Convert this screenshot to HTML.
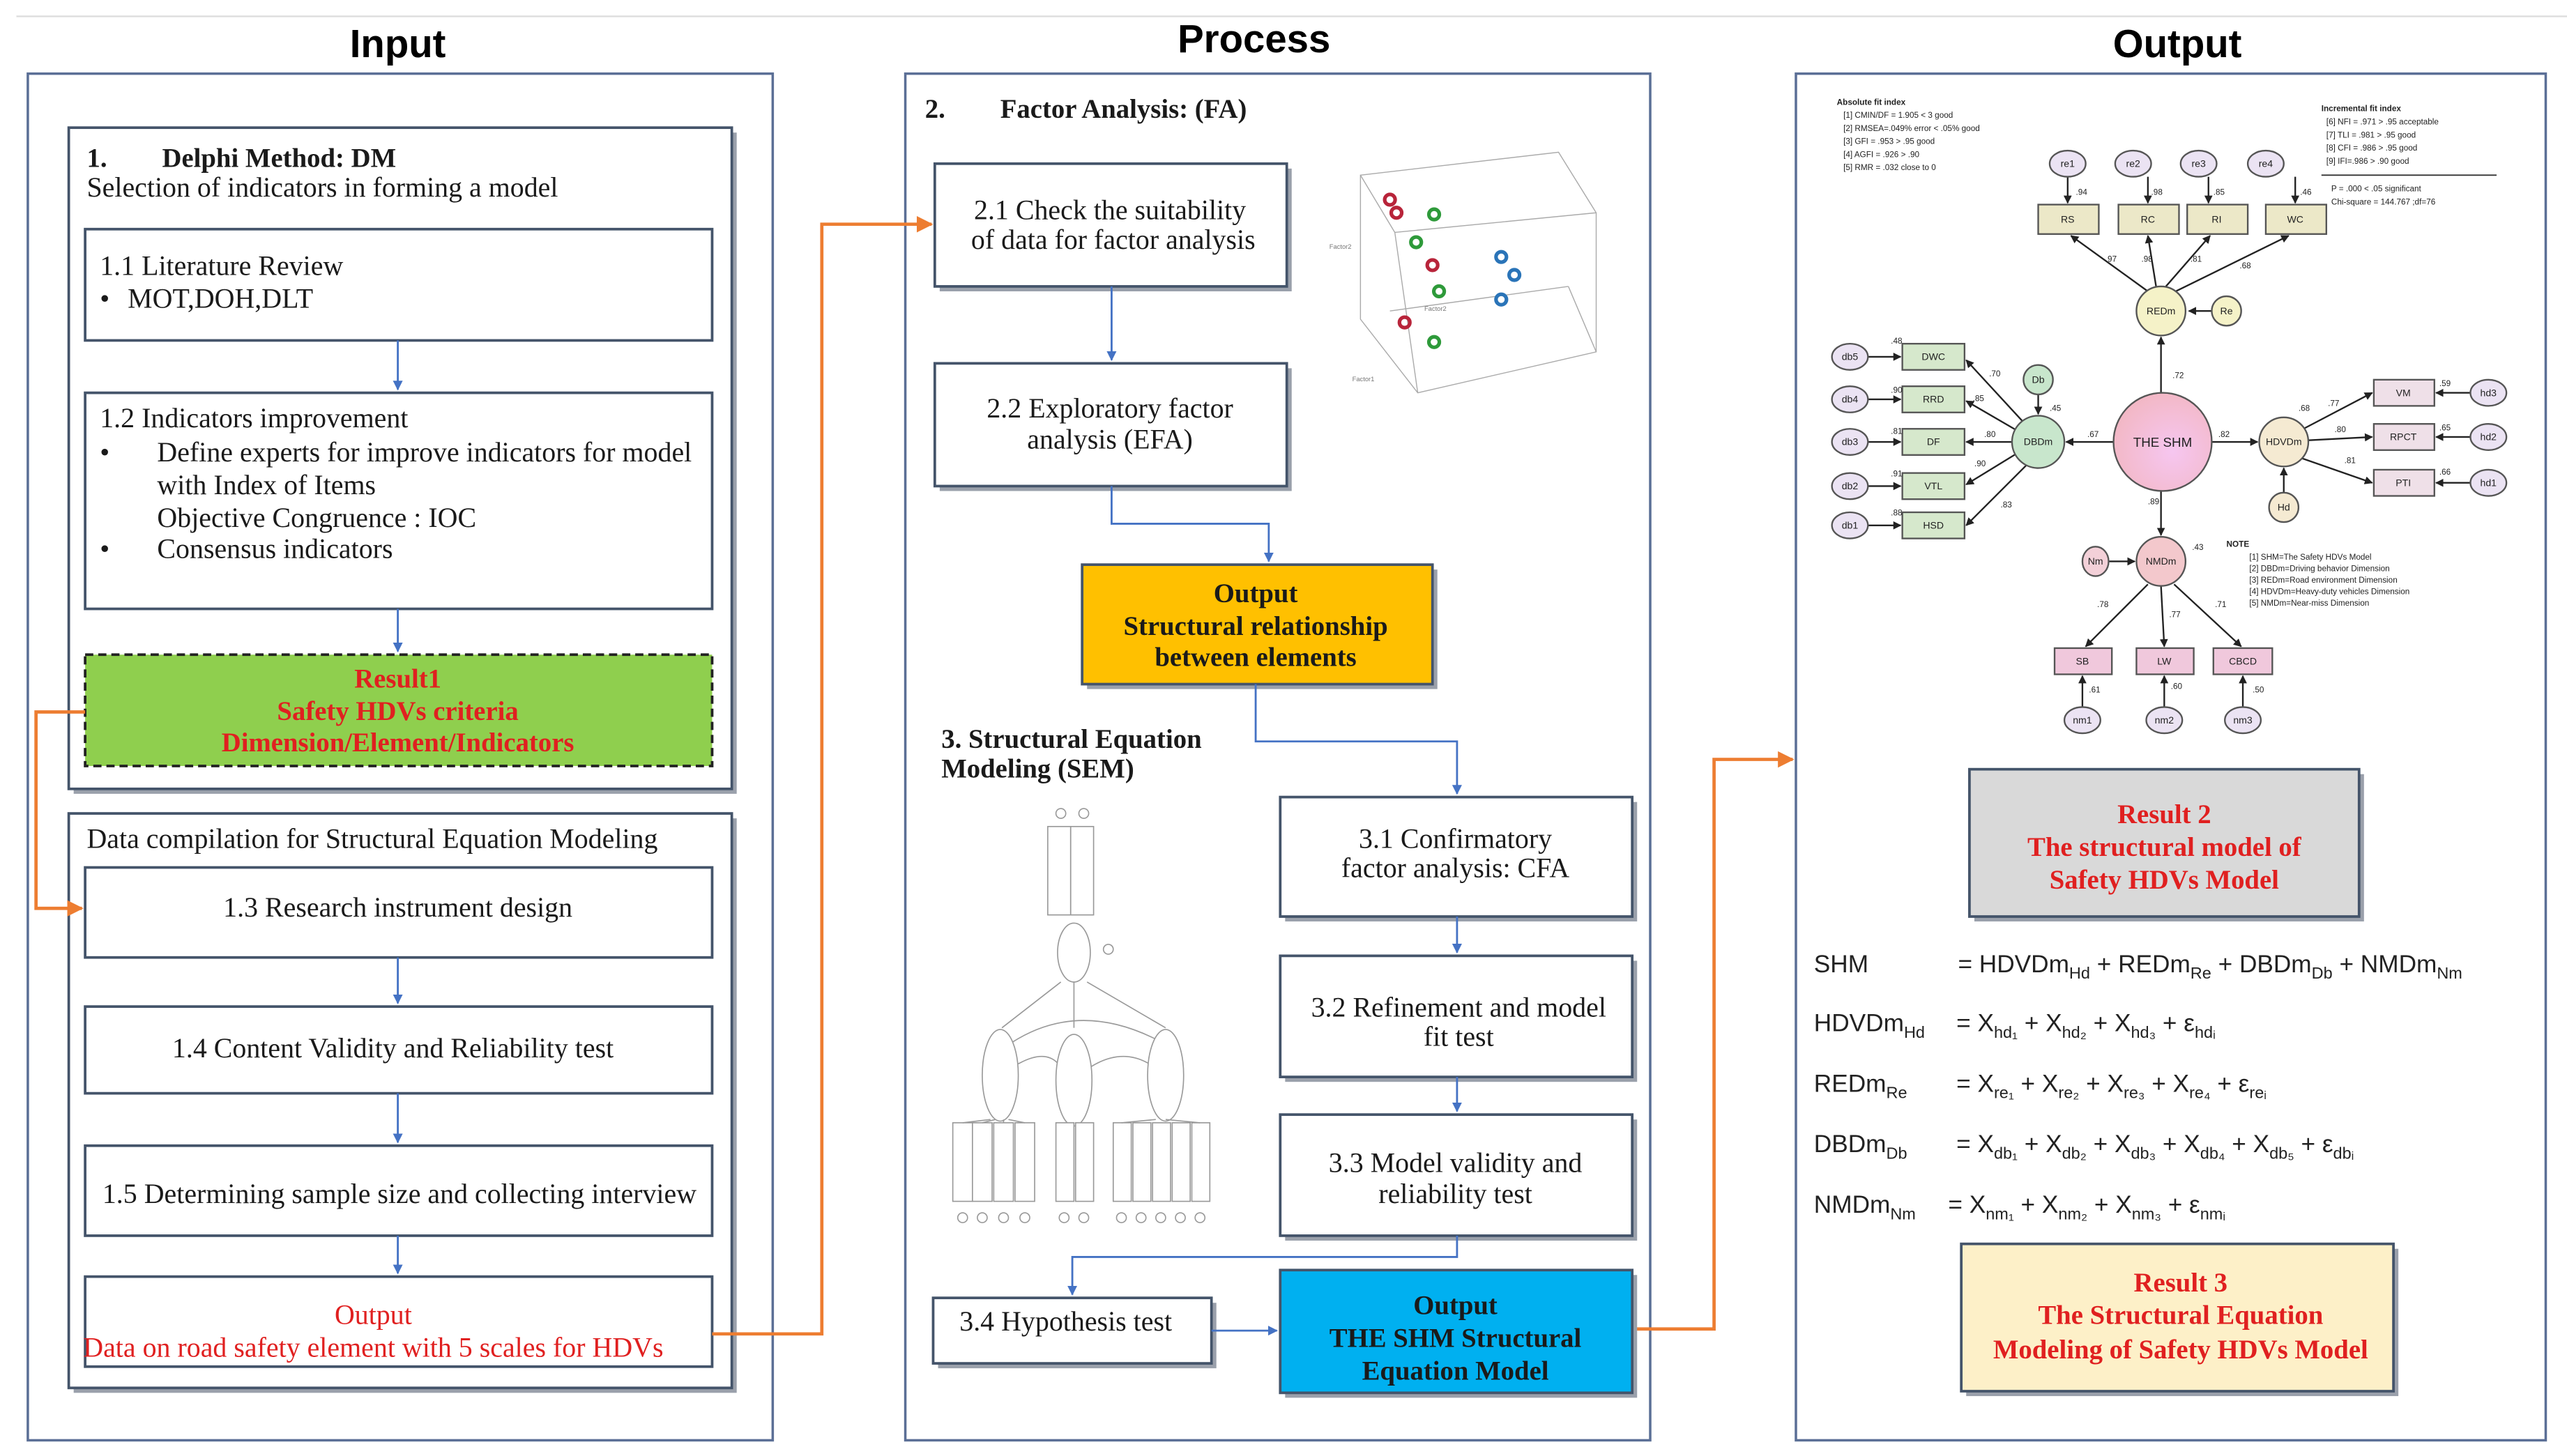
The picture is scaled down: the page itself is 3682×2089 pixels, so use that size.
<!DOCTYPE html>
<html><head><meta charset="utf-8">
<style>
html,body{margin:0;padding:0;background:#fff;}
svg{display:block;}
.s{font-family:"Liberation Serif",serif;fill:#1a1a1a;}
.a{font-family:"Liberation Sans",sans-serif;}
.box{fill:#fff;stroke:#44546a;stroke-width:1.6;}
.sh{fill:#9aa0ab;}
.pan{fill:#fff;stroke:#5b6f96;stroke-width:1.5;}
.bl{stroke:#4472c4;stroke-width:1.2;fill:none;}
.or{stroke:#ed7d31;stroke-width:2;fill:none;}
.k{stroke:#222;stroke-width:1;fill:none;}
.t5{font-family:"Liberation Sans",sans-serif;font-size:5px;fill:#222;}
.t6{font-family:"Liberation Sans",sans-serif;font-size:6px;fill:#222;}
.g{stroke:#aaa;stroke-width:0.6;fill:none;}
</style></head><body>
<svg width="3682" height="2089" viewBox="0 0 1568 889.6" preserveAspectRatio="none" xmlns="http://www.w3.org/2000/svg">
<defs>
<marker id="ab" viewBox="0 0 10 10" refX="9" refY="5" markerWidth="5" markerHeight="5" orient="auto"><path d="M0,0L10,5L0,10z" fill="#4472c4"/></marker>
<marker id="ao" viewBox="0 0 10 10" refX="9" refY="5" markerWidth="5" markerHeight="5" orient="auto"><path d="M0,0L10,5L0,10z" fill="#ed7d31"/></marker>
<marker id="ak" viewBox="0 0 10 10" refX="9" refY="5" markerWidth="5" markerHeight="5" orient="auto"><path d="M0,0L10,5L0,10z" fill="#222"/></marker>
<radialGradient id="pk" cx="0.6" cy="0.6" r="0.7"><stop offset="0" stop-color="#f6c6f0"/><stop offset="1" stop-color="#f2b6c0"/></radialGradient>
</defs>

<line x1="10" y1="10" x2="1568" y2="10" stroke="#ddd" stroke-width="1"/>

<text x="243" y="35" text-anchor="middle" class="a" font-size="24" font-weight="bold">Input</text>
<text x="766" y="32" text-anchor="middle" class="a" font-size="24" font-weight="bold">Process</text>
<text x="1330" y="35" text-anchor="middle" class="a" font-size="24" font-weight="bold">Output</text>

<rect class="pan" x="17" y="45" width="455" height="835"/>
<rect class="pan" x="553" y="45" width="455" height="835"/>
<rect class="pan" x="1097" y="45" width="458" height="835"/>

<!-- ===== INPUT ===== -->
<rect class="sh" x="45" y="81" width="405" height="404"/>
<rect class="box" x="42" y="78" width="405" height="404"/>
<text class="s" x="53" y="102" font-size="16.5" font-weight="bold">1.</text>
<text class="s" x="99" y="102" font-size="16.5" font-weight="bold">Delphi Method: DM</text>
<text class="s" x="53" y="120" font-size="17">Selection of indicators in forming a model</text>

<rect class="box" x="52" y="140" width="383" height="68"/>
<text class="s" x="61" y="168" font-size="17">1.1 Literature Review</text>
<text class="s" x="61" y="188" font-size="17">•</text>
<text class="s" x="78" y="188" font-size="17">MOT,DOH,DLT</text>
<line class="bl" x1="243" y1="208" x2="243" y2="238" marker-end="url(#ab)"/>

<rect class="box" x="52" y="240" width="383" height="132"/>
<text class="s" x="61" y="261" font-size="17">1.2 Indicators improvement</text>
<text class="s" x="61" y="282" font-size="17">•</text>
<text class="s" x="96" y="282" font-size="17">Define experts for improve indicators for model</text>
<text class="s" x="96" y="302" font-size="17">with Index of Items</text>
<text class="s" x="96" y="322" font-size="17">Objective Congruence : IOC</text>
<text class="s" x="61" y="341" font-size="17">•</text>
<text class="s" x="96" y="341" font-size="17">Consensus indicators</text>
<line class="bl" x1="243" y1="372" x2="243" y2="398" marker-end="url(#ab)"/>

<rect x="52" y="400" width="383" height="68" fill="#8fcf4e" stroke="#222" stroke-width="1.6" stroke-dasharray="5,3"/>
<text class="s" x="243" y="420" text-anchor="middle" font-size="16.5" font-weight="bold" style="fill:#e02020">Result1</text>
<text class="s" x="243" y="440" text-anchor="middle" font-size="16.5" font-weight="bold" style="fill:#e02020">Safety HDVs criteria</text>
<text class="s" x="243" y="459" text-anchor="middle" font-size="16.5" font-weight="bold" style="fill:#e02020">Dimension/Element/Indicators</text>

<rect class="sh" x="45" y="500" width="405" height="351"/>
<rect class="box" x="42" y="497" width="405" height="351"/>
<text class="s" x="53" y="518" font-size="17">Data compilation for Structural Equation Modeling</text>

<rect class="box" x="52" y="530" width="383" height="55"/>
<text class="s" x="243" y="560" text-anchor="middle" font-size="17">1.3 Research instrument design</text>
<line class="bl" x1="243" y1="585" x2="243" y2="613" marker-end="url(#ab)"/>
<rect class="box" x="52" y="615" width="383" height="53"/>
<text class="s" x="240" y="646" text-anchor="middle" font-size="17">1.4 Content Validity and Reliability test</text>
<line class="bl" x1="243" y1="668" x2="243" y2="698" marker-end="url(#ab)"/>
<rect class="box" x="52" y="700" width="383" height="55"/>
<text class="s" x="244" y="735" text-anchor="middle" font-size="17">1.5 Determining sample size and collecting interview</text>
<line class="bl" x1="243" y1="755" x2="243" y2="778" marker-end="url(#ab)"/>
<rect class="box" x="52" y="780" width="383" height="55"/>
<text class="s" x="228" y="809" text-anchor="middle" font-size="17" style="fill:#e02020">Output</text>
<text class="s" x="228" y="829" text-anchor="middle" font-size="17" style="fill:#e02020">Data on road safety element with 5 scales for HDVs</text>

<polyline class="or" points="52,435 22,435 22,555 50,555" marker-end="url(#ao)"/>
<polyline class="or" points="435,815 502,815 502,137 569,137" marker-end="url(#ao)"/>
<polyline class="or" points="997,812 1047,812 1047,464 1095,464" marker-end="url(#ao)"/>

<!-- ===== PROCESS ===== -->
<text class="s" x="565" y="72" font-size="16.5" font-weight="bold">2.</text>
<text class="s" x="611" y="72" font-size="16.5" font-weight="bold">Factor Analysis: (FA)</text>

<rect class="sh" x="574" y="103" width="215" height="75"/>
<rect class="box" x="571" y="100" width="215" height="75"/>
<text class="s" x="678" y="134" text-anchor="middle" font-size="17">2.1 Check the suitability</text>
<text class="s" x="680" y="152" text-anchor="middle" font-size="17">of data for factor analysis</text>
<line class="bl" x1="679" y1="175" x2="679" y2="220" marker-end="url(#ab)"/>

<rect class="sh" x="574" y="225" width="215" height="75"/>
<rect class="box" x="571" y="222" width="215" height="75"/>
<text class="s" x="678" y="255" text-anchor="middle" font-size="17">2.2 Exploratory factor</text>
<text class="s" x="678" y="274" text-anchor="middle" font-size="17">analysis (EFA)</text>
<polyline class="bl" points="679,297 679,320 775,320 775,343" marker-end="url(#ab)"/>

<rect class="sh" x="664" y="348" width="214" height="73"/>
<rect x="661" y="345" width="214" height="73" fill="#ffc000" stroke="#44546a" stroke-width="1.6"/>
<text class="s" x="767" y="368" text-anchor="middle" font-size="16.5" font-weight="bold">Output</text>
<text class="s" x="767" y="388" text-anchor="middle" font-size="16.5" font-weight="bold">Structural relationship</text>
<text class="s" x="767" y="407" text-anchor="middle" font-size="16.5" font-weight="bold">between elements</text>

<g>
<polygon class="g" points="831,107 952,93 975,130 975,215 866,240 831,195"/>
<line class="g" x1="852" y1="142" x2="975" y2="130"/>
<line class="g" x1="852" y1="142" x2="866" y2="240"/>
<line class="g" x1="849" y1="190" x2="958" y2="175"/>
<line class="g" x1="958" y1="175" x2="975" y2="215"/>
<line class="g" x1="831" y1="107" x2="852" y2="142"/>
<text x="812" y="152" font-size="4" fill="#777" class="a">Factor2</text>
<text x="826" y="233" font-size="4" fill="#777" class="a">Factor1</text>
<text x="870" y="190" font-size="4" fill="#777" class="a">Factor2</text>
<g fill="none" stroke-width="2.2">
<circle cx="849" cy="122" r="3.2" stroke="#b8243a"/>
<circle cx="853" cy="130" r="3.2" stroke="#b8243a"/>
<circle cx="876" cy="131" r="3.2" stroke="#2e9a3a"/>
<circle cx="865" cy="148" r="3.2" stroke="#2e9a3a"/>
<circle cx="875" cy="162" r="3.2" stroke="#b8243a"/>
<circle cx="879" cy="178" r="3.2" stroke="#2e9a3a"/>
<circle cx="858" cy="197" r="3.2" stroke="#b8243a"/>
<circle cx="876" cy="209" r="3.2" stroke="#2e9a3a"/>
<circle cx="917" cy="157" r="3.2" stroke="#2a74b8"/>
<circle cx="925" cy="168" r="3.2" stroke="#2a74b8"/>
<circle cx="917" cy="183" r="3.2" stroke="#2a74b8"/>
</g>
</g>

<polyline class="bl" points="767,418 767,453 890,453 890,485" marker-end="url(#ab)"/>

<text class="s" x="575" y="457" font-size="16.5" font-weight="bold">3. Structural Equation</text>
<text class="s" x="575" y="475" font-size="16.5" font-weight="bold">Modeling (SEM)</text>

<g stroke="#999" stroke-width="0.7" fill="#fff">
<circle cx="648" cy="497" r="3"/><circle cx="662" cy="497" r="3"/>
<rect x="640" y="505" width="14" height="54"/><rect x="654" y="505" width="14" height="54"/>
<ellipse cx="656" cy="582" rx="10" ry="18"/>
<circle cx="677" cy="580" r="3"/>
<line x1="648" y1="600" x2="612" y2="628"/><line x1="656" y1="600" x2="656" y2="628"/><line x1="664" y1="600" x2="712" y2="628"/>
<path d="M618,637 Q660,610 710,637" fill="none"/>
<path d="M622,650 Q640,640 648,652" fill="none"/><path d="M666,652 Q685,640 702,650" fill="none"/>
<ellipse cx="611" cy="657" rx="11" ry="28"/><ellipse cx="656" cy="660" rx="11" ry="28"/><ellipse cx="712" cy="657" rx="11" ry="28"/>
<rect x="582" y="686" width="12" height="48"/><rect x="594" y="686" width="12" height="48"/><rect x="607" y="686" width="12" height="48"/><rect x="620" y="686" width="12" height="48"/>
<rect x="645" y="686" width="11" height="48"/><rect x="657" y="686" width="11" height="48"/>
<rect x="680" y="686" width="11" height="48"/><rect x="692" y="686" width="11" height="48"/><rect x="704" y="686" width="11" height="48"/><rect x="716" y="686" width="11" height="48"/><rect x="728" y="686" width="11" height="48"/>
<g fill="#fff">
<circle cx="588" cy="744" r="3"/><circle cx="600" cy="744" r="3"/><circle cx="613" cy="744" r="3"/><circle cx="626" cy="744" r="3"/>
<circle cx="650" cy="744" r="3"/><circle cx="662" cy="744" r="3"/>
<circle cx="685" cy="744" r="3"/><circle cx="697" cy="744" r="3"/><circle cx="709" cy="744" r="3"/><circle cx="721" cy="744" r="3"/><circle cx="733" cy="744" r="3"/>
</g>
<line x1="605" y1="684" x2="588" y2="686"/><line x1="608" y1="684" x2="600" y2="686"/><line x1="613" y1="684" x2="613" y2="686"/><line x1="616" y1="684" x2="626" y2="686"/>
<line x1="706" y1="684" x2="685" y2="686"/><line x1="712" y1="684" x2="733" y2="686"/>
</g>

<rect class="sh" x="785" y="490" width="215" height="73"/>
<rect class="box" x="782" y="487" width="215" height="73"/>
<text class="s" x="889" y="518" text-anchor="middle" font-size="17">3.1 Confirmatory</text>
<text class="s" x="889" y="536" text-anchor="middle" font-size="17">factor analysis: CFA</text>
<line class="bl" x1="890" y1="560" x2="890" y2="582" marker-end="url(#ab)"/>

<rect class="sh" x="785" y="587" width="215" height="74"/>
<rect class="box" x="782" y="584" width="215" height="74"/>
<text class="s" x="891" y="621" text-anchor="middle" font-size="17">3.2  Refinement and model</text>
<text class="s" x="891" y="639" text-anchor="middle" font-size="17">fit test</text>
<line class="bl" x1="890" y1="658" x2="890" y2="679" marker-end="url(#ab)"/>

<rect class="sh" x="785" y="684" width="215" height="74"/>
<rect class="box" x="782" y="681" width="215" height="74"/>
<text class="s" x="889" y="716" text-anchor="middle" font-size="17">3.3 Model validity and</text>
<text class="s" x="889" y="735" text-anchor="middle" font-size="17">reliability test</text>
<polyline class="bl" points="890,755 890,768 655,768 655,791" marker-end="url(#ab)"/>

<rect class="sh" x="573" y="796" width="170" height="40"/>
<rect class="box" x="570" y="793" width="170" height="40"/>
<text class="s" x="651" y="813" text-anchor="middle" font-size="17">3.4 Hypothesis test</text>
<line class="bl" x1="740" y1="813" x2="780" y2="813" marker-end="url(#ab)"/>

<rect class="sh" x="785" y="779" width="215" height="75"/>
<rect x="782" y="776" width="215" height="75" fill="#00b0f0" stroke="#44546a" stroke-width="1.6"/>
<text class="s" x="889" y="803" text-anchor="middle" font-size="16.5" font-weight="bold">Output</text>
<text class="s" x="889" y="823" text-anchor="middle" font-size="16.5" font-weight="bold">THE SHM Structural</text>
<text class="s" x="889" y="843" text-anchor="middle" font-size="16.5" font-weight="bold">Equation Model</text>

<!-- ===== OUTPUT ===== -->
<text class="t5" x="1122" y="64" font-weight="bold">Absolute fit index</text>
<text class="t5" x="1126" y="72">[1] CMIN/DF = 1.905 &lt; 3 good</text>
<text class="t5" x="1126" y="80">[2] RMSEA=.049% error &lt; .05% good</text>
<text class="t5" x="1126" y="88">[3] GFI = .953 &gt; .95 good</text>
<text class="t5" x="1126" y="96">[4] AGFI = .926 &gt; .90</text>
<text class="t5" x="1126" y="104">[5] RMR = .032 close to 0</text>
<text class="t5" x="1418" y="68" font-weight="bold">Incremental fit index</text>
<text class="t5" x="1421" y="76">[6] NFI = .971 &gt; .95 acceptable</text>
<text class="t5" x="1421" y="84">[7] TLI = .981 &gt; .95 good</text>
<text class="t5" x="1421" y="92">[8] CFI = .986 &gt; .95 good</text>
<text class="t5" x="1421" y="100">[9] IFI=.986 &gt; .90 good</text>
<line x1="1418" y1="107" x2="1525" y2="107" stroke="#333" stroke-width="0.8"/>
<text class="t5" x="1424" y="117">P = .000 &lt; .05 significant</text>
<text class="t5" x="1424" y="125">Chi-square = 144.767 ;df=76</text>

<g class="k">
<line x1="1263" y1="108" x2="1263" y2="124" marker-end="url(#ak)"/>
<line x1="1312" y1="108" x2="1312" y2="124" marker-end="url(#ak)"/>
<line x1="1349" y1="108" x2="1349" y2="124" marker-end="url(#ak)"/>
<line x1="1402" y1="108" x2="1402" y2="124" marker-end="url(#ak)"/>
<line x1="1312" y1="178" x2="1265" y2="144" marker-end="url(#ak)"/>
<line x1="1317" y1="175" x2="1312" y2="144" marker-end="url(#ak)"/>
<line x1="1323" y1="175" x2="1350" y2="144" marker-end="url(#ak)"/>
<line x1="1329" y1="178" x2="1398" y2="144" marker-end="url(#ak)"/>
<line x1="1351" y1="190" x2="1337" y2="190" marker-end="url(#ak)"/>
<line x1="1320" y1="240" x2="1320" y2="206" marker-end="url(#ak)"/>
<line x1="1291" y1="270" x2="1262" y2="270" marker-end="url(#ak)"/>
<line x1="1351" y1="270" x2="1379" y2="270" marker-end="url(#ak)"/>
<line x1="1320" y1="300" x2="1320" y2="327" marker-end="url(#ak)"/>
<line x1="1245" y1="241" x2="1245" y2="253" marker-end="url(#ak)"/>
<line x1="1236" y1="258" x2="1201" y2="220" marker-end="url(#ak)"/>
<line x1="1232" y1="263" x2="1201" y2="245" marker-end="url(#ak)"/>
<line x1="1229" y1="270" x2="1201" y2="270" marker-end="url(#ak)"/>
<line x1="1232" y1="277" x2="1201" y2="296" marker-end="url(#ak)"/>
<line x1="1238" y1="284" x2="1201" y2="321" marker-end="url(#ak)"/>
<line x1="1141" y1="218" x2="1161" y2="218" marker-end="url(#ak)"/>
<line x1="1141" y1="244" x2="1161" y2="244" marker-end="url(#ak)"/>
<line x1="1141" y1="270" x2="1161" y2="270" marker-end="url(#ak)"/>
<line x1="1141" y1="297" x2="1161" y2="297" marker-end="url(#ak)"/>
<line x1="1141" y1="321" x2="1161" y2="321" marker-end="url(#ak)"/>
<line x1="1407" y1="262" x2="1449" y2="240" marker-end="url(#ak)"/>
<line x1="1410" y1="269" x2="1449" y2="267" marker-end="url(#ak)"/>
<line x1="1406" y1="280" x2="1449" y2="295" marker-end="url(#ak)"/>
<line x1="1395" y1="301" x2="1395" y2="286" marker-end="url(#ak)"/>
<line x1="1509" y1="240" x2="1488" y2="240" marker-end="url(#ak)"/>
<line x1="1509" y1="267" x2="1488" y2="267" marker-end="url(#ak)"/>
<line x1="1509" y1="295" x2="1488" y2="295" marker-end="url(#ak)"/>
<line x1="1288" y1="343" x2="1304" y2="343" marker-end="url(#ak)"/>
<line x1="1312" y1="357" x2="1274" y2="395" marker-end="url(#ak)"/>
<line x1="1320" y1="358" x2="1322" y2="395" marker-end="url(#ak)"/>
<line x1="1328" y1="357" x2="1369" y2="395" marker-end="url(#ak)"/>
<line x1="1272" y1="432" x2="1272" y2="413" marker-end="url(#ak)"/>
<line x1="1322" y1="432" x2="1322" y2="413" marker-end="url(#ak)"/>
<line x1="1370" y1="432" x2="1370" y2="413" marker-end="url(#ak)"/>
</g>
<g stroke="#555" stroke-width="1">
<ellipse cx="1263" cy="100" rx="11" ry="8" fill="#ebe3f3"/><ellipse cx="1303" cy="100" rx="11" ry="8" fill="#ebe3f3"/>
<ellipse cx="1343" cy="100" rx="11" ry="8" fill="#ebe3f3"/><ellipse cx="1384" cy="100" rx="11" ry="8" fill="#ebe3f3"/>
<rect x="1245" y="125" width="37" height="18" fill="#ece8c8"/><rect x="1294" y="125" width="37" height="18" fill="#ece8c8"/>
<rect x="1336" y="125" width="37" height="18" fill="#ece8c8"/><rect x="1384" y="125" width="37" height="18" fill="#ece8c8"/>
<circle cx="1320" cy="190" r="15" fill="#f5f2c8"/><circle cx="1360" cy="190" r="9" fill="#f5f2c8"/>
<circle cx="1321" cy="270" r="30" fill="url(#pk)"/>
<circle cx="1245" cy="270" r="16" fill="#c8e6cc"/><circle cx="1245" cy="232" r="9" fill="#c8e6cc"/>
<rect x="1162" y="210" width="38" height="16" fill="#d6e8cc"/><rect x="1162" y="236" width="38" height="16" fill="#d6e8cc"/>
<rect x="1162" y="262" width="38" height="16" fill="#d6e8cc"/><rect x="1162" y="289" width="38" height="16" fill="#d6e8cc"/>
<rect x="1162" y="313" width="38" height="16" fill="#d6e8cc"/>
<ellipse cx="1130" cy="218" rx="11" ry="8" fill="#ebe3f3"/><ellipse cx="1130" cy="244" rx="11" ry="8" fill="#ebe3f3"/>
<ellipse cx="1130" cy="270" rx="11" ry="8" fill="#ebe3f3"/><ellipse cx="1130" cy="297" rx="11" ry="8" fill="#ebe3f3"/>
<ellipse cx="1130" cy="321" rx="11" ry="8" fill="#ebe3f3"/>
<circle cx="1395" cy="270" r="15" fill="#f5ead2"/><circle cx="1395" cy="310" r="9" fill="#f5ead2"/>
<rect x="1450" y="232" width="37" height="16" fill="#efe0e8"/><rect x="1450" y="259" width="37" height="16" fill="#efe0e8"/>
<rect x="1450" y="287" width="37" height="16" fill="#efe0e8"/>
<ellipse cx="1520" cy="240" rx="11" ry="8" fill="#ebe3f3"/><ellipse cx="1520" cy="267" rx="11" ry="8" fill="#ebe3f3"/>
<ellipse cx="1520" cy="295" rx="11" ry="8" fill="#ebe3f3"/>
<circle cx="1320" cy="343" r="15" fill="#f3c8cc"/><ellipse cx="1280" cy="343" rx="8" ry="9" fill="#f3d0d8"/>
<rect x="1255" y="396" width="35" height="16" fill="#f0c8dc"/><rect x="1305" y="396" width="35" height="16" fill="#f0c8dc"/>
<rect x="1352" y="396" width="36" height="16" fill="#f0c8dc"/>
<ellipse cx="1272" cy="440" rx="11" ry="8" fill="#ebe3f3"/><ellipse cx="1322" cy="440" rx="11" ry="8" fill="#ebe3f3"/>
<ellipse cx="1370" cy="440" rx="11" ry="8" fill="#ebe3f3"/>
</g>
<g class="t6" text-anchor="middle">
<text x="1263" y="102">re1</text><text x="1303" y="102">re2</text><text x="1343" y="102">re3</text><text x="1384" y="102">re4</text>
<text x="1263" y="136">RS</text><text x="1312" y="136">RC</text><text x="1354" y="136">RI</text><text x="1402" y="136">WC</text>
<text x="1320" y="192">REDm</text><text x="1360" y="192">Re</text>
<text x="1321" y="273" font-size="8">THE SHM</text>
<text x="1245" y="272">DBDm</text><text x="1245" y="234">Db</text>
<text x="1181" y="220">DWC</text><text x="1181" y="246">RRD</text><text x="1181" y="272">DF</text><text x="1181" y="299">VTL</text><text x="1181" y="323">HSD</text>
<text x="1130" y="220">db5</text><text x="1130" y="246">db4</text><text x="1130" y="272">db3</text><text x="1130" y="299">db2</text><text x="1130" y="323">db1</text>
<text x="1395" y="272">HDVDm</text><text x="1395" y="312">Hd</text>
<text x="1468" y="242">VM</text><text x="1468" y="269">RPCT</text><text x="1468" y="297">PTI</text>
<text x="1520" y="242">hd3</text><text x="1520" y="269">hd2</text><text x="1520" y="297">hd1</text>
<text x="1320" y="345">NMDm</text><text x="1280" y="345">Nm</text>
<text x="1272" y="406">SB</text><text x="1322" y="406">LW</text><text x="1370" y="406">CBCD</text>
<text x="1272" y="442">nm1</text><text x="1322" y="442">nm2</text><text x="1370" y="442">nm3</text>
</g>
<g class="t5">
<text x="1268" y="119">.94</text><text x="1314" y="119">.98</text><text x="1352" y="119">.85</text><text x="1405" y="119">.46</text>
<text x="1286" y="160">.97</text><text x="1308" y="160">.98</text><text x="1338" y="160">.81</text><text x="1368" y="164">.68</text>
<text x="1327" y="231">.72</text><text x="1275" y="267">.67</text><text x="1355" y="267">.82</text><text x="1312" y="308">.89</text>
<text x="1252" y="251">.45</text><text x="1215" y="230">.70</text><text x="1205" y="245">.85</text><text x="1212" y="267">.80</text>
<text x="1206" y="285">.90</text><text x="1222" y="310">.83</text>
<text x="1155" y="210">.48</text><text x="1155" y="240">.90</text><text x="1155" y="265">.81</text><text x="1155" y="291">.91</text><text x="1155" y="315">.88</text>
<text x="1404" y="251">.68</text><text x="1422" y="248">.77</text><text x="1426" y="264">.80</text><text x="1432" y="283">.81</text>
<text x="1490" y="236">.59</text><text x="1490" y="263">.65</text><text x="1490" y="290">.66</text>
<text x="1339" y="336">.43</text>
<text x="1281" y="371">.78</text><text x="1325" y="377">.77</text><text x="1353" y="371">.71</text>
<text x="1276" y="423">.61</text><text x="1326" y="421">.60</text><text x="1376" y="423">.50</text>
</g>
<g class="t5" font-size="4.5">
<text x="1360" y="334" font-weight="bold">NOTE</text>
<text x="1374" y="342">[1] SHM=The Safety HDVs Model</text>
<text x="1374" y="349">[2] DBDm=Driving behavior Dimension</text>
<text x="1374" y="356">[3] REDm=Road environment Dimension</text>
<text x="1374" y="363">[4] HDVDm=Heavy-duty vehicles Dimension</text>
<text x="1374" y="370">[5] NMDm=Near-miss Dimension</text>
</g>

<rect class="sh" x="1206" y="473" width="238" height="90"/>
<rect x="1203" y="470" width="238" height="90" fill="#d9d9d9" stroke="#44546a" stroke-width="1.6"/>
<text class="s" x="1322" y="503" text-anchor="middle" font-size="16.5" font-weight="bold" style="fill:#e02020">Result 2</text>
<text class="s" x="1322" y="523" text-anchor="middle" font-size="16.5" font-weight="bold" style="fill:#e02020">The structural  model of</text>
<text class="s" x="1322" y="543" text-anchor="middle" font-size="16.5" font-weight="bold" style="fill:#e02020">Safety HDVs Model</text>

<g class="a" font-size="15" fill="#222">
<text x="1108" y="594">SHM</text>
<text x="1196" y="594">= HDVDm<tspan font-size="10" dy="4">Hd</tspan><tspan dy="-4"> + REDm</tspan><tspan font-size="10" dy="4">Re</tspan><tspan dy="-4"> + DBDm</tspan><tspan font-size="10" dy="4">Db</tspan><tspan dy="-4"> + NMDm</tspan><tspan font-size="10" dy="4">Nm</tspan></text>
<text x="1108" y="630">HDVDm<tspan font-size="10" dy="4">Hd</tspan></text>
<text x="1195" y="630">= X<tspan font-size="10" dy="4">hd₁</tspan><tspan dy="-4"> + X</tspan><tspan font-size="10" dy="4">hd₂</tspan><tspan dy="-4"> + X</tspan><tspan font-size="10" dy="4">hd₃</tspan><tspan dy="-4"> + ε</tspan><tspan font-size="10" dy="4">hdᵢ</tspan></text>
<text x="1108" y="667">REDm<tspan font-size="10" dy="4">Re</tspan></text>
<text x="1195" y="667">= X<tspan font-size="10" dy="4">re₁</tspan><tspan dy="-4"> + X</tspan><tspan font-size="10" dy="4">re₂</tspan><tspan dy="-4"> + X</tspan><tspan font-size="10" dy="4">re₃</tspan><tspan dy="-4"> + X</tspan><tspan font-size="10" dy="4">re₄</tspan><tspan dy="-4"> + ε</tspan><tspan font-size="10" dy="4">reᵢ</tspan></text>
<text x="1108" y="704">DBDm<tspan font-size="10" dy="4">Db</tspan></text>
<text x="1195" y="704">= X<tspan font-size="10" dy="4">db₁</tspan><tspan dy="-4"> + X</tspan><tspan font-size="10" dy="4">db₂</tspan><tspan dy="-4"> + X</tspan><tspan font-size="10" dy="4">db₃</tspan><tspan dy="-4"> + X</tspan><tspan font-size="10" dy="4">db₄</tspan><tspan dy="-4"> + X</tspan><tspan font-size="10" dy="4">db₅</tspan><tspan dy="-4"> + ε</tspan><tspan font-size="10" dy="4">dbᵢ</tspan></text>
<text x="1108" y="741">NMDm<tspan font-size="10" dy="4">Nm</tspan></text>
<text x="1190" y="741">= X<tspan font-size="10" dy="4">nm₁</tspan><tspan dy="-4"> + X</tspan><tspan font-size="10" dy="4">nm₂</tspan><tspan dy="-4"> + X</tspan><tspan font-size="10" dy="4">nm₃</tspan><tspan dy="-4"> + ε</tspan><tspan font-size="10" dy="4">nmᵢ</tspan></text>
</g>

<rect class="sh" x="1201" y="763" width="264" height="90"/>
<rect x="1198" y="760" width="264" height="90" fill="#fdf0c8" stroke="#44546a" stroke-width="1.6"/>
<text class="s" x="1332" y="789" text-anchor="middle" font-size="16.5" font-weight="bold" style="fill:#e02020">Result 3</text>
<text class="s" x="1332" y="809" text-anchor="middle" font-size="16.5" font-weight="bold" style="fill:#e02020">The Structural Equation</text>
<text class="s" x="1332" y="830" text-anchor="middle" font-size="16.5" font-weight="bold" style="fill:#e02020">Modeling of Safety HDVs Model</text>
</svg>
</body></html>
